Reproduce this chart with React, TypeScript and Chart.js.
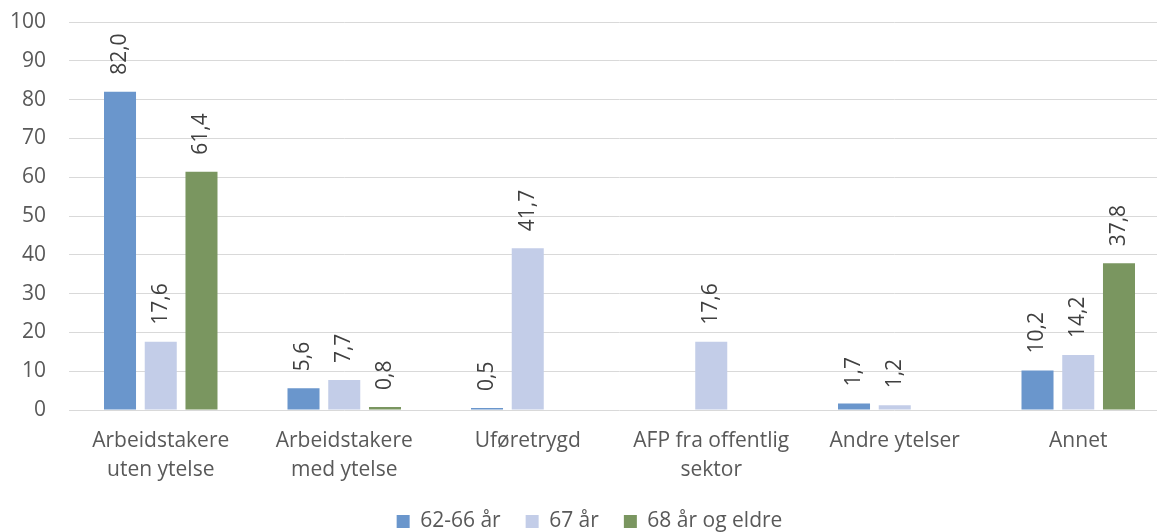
import React, { useEffect, useRef } from "react";
import { Chart, registerables } from "chart.js";

Chart.register(...registerables);

const categories: (string | string[])[] = [
  ["Arbeidstakere", "uten ytelse"],
  ["Arbeidstakere", "med ytelse"],
  "Uføretrygd",
  ["AFP fra offentlig", "sektor"],
  "Andre ytelser",
  "Annet",
];
const seriesNames = ["62-66 år", "67 år", "68 år og eldre"];
const values6266: (number | null)[] = [82.0, 5.6, 0.5, null, 1.7, 10.2];
const values67: (number | null)[] = [17.6, 7.7, 41.7, 17.6, 1.2, 14.2];
const values68: (number | null)[] = [61.4, 0.8, null, null, null, 37.8];
const seriesColors = ["#6A96CC", "#C3CDE8", "#7A9660"];
const yMin = 0;
const yMax = 100;
const yStep = 10;

const FONT = "'Open Sans', 'DejaVu Sans', sans-serif";
const CANVAS_W = 1180;
const CANVAS_H = 542;

const barLabels = {
  id: "barLabels",
  afterDatasetsDraw(chart: any) {
    const ctx = chart.ctx as CanvasRenderingContext2D;
    ctx.save();
    ctx.font = `21px ${FONT}`;
    ctx.fillStyle = "#404040";
    ctx.textAlign = "left";
    ctx.textBaseline = "middle";
    chart.data.datasets.forEach((ds: any, di: number) => {
      const meta = chart.getDatasetMeta(di);
      meta.data.forEach((el: any, i: number) => {
        const v = ds.data[i];
        if (v == null) return;
        ctx.save();
        ctx.translate(el.x, el.y - 17);
        ctx.rotate(-Math.PI / 2);
        ctx.fillText(v.toFixed(1).replace(".", ","), 0, 0);
        ctx.restore();
      });
    });
    ctx.restore();
  },
};

export default function App() {
  const ref = useRef<HTMLCanvasElement | null>(null);
  useEffect(() => {
    if (!ref.current) return;
    const chart = new Chart(ref.current, {
      type: "bar",
      data: {
        labels: categories as any,
        datasets: [values6266, values67, values68].map((d, i) => ({
          label: seriesNames[i],
          data: d,
          backgroundColor: seriesColors[i],
          borderWidth: 0,
          categoryPercentage: 0.666,
          barPercentage: 0.786,
        })),
      },
      options: {
        responsive: false,
        animation: false,
        devicePixelRatio: 1,
        layout: { padding: { left: 9, right: 10, top: 22, bottom: 0 } },
        plugins: {
          legend: {
            position: "bottom",
            labels: {
              boxWidth: 13,
              boxHeight: 13,
              padding: 25,
              color: "#595959",
              font: { family: FONT, size: 21 },
            },
          },
          tooltip: { enabled: false },
        },
        scales: {
          x: {
            grid: { display: false, drawTicks: false },
            border: { display: false },
            ticks: {
              color: "#595959",
              font: { family: FONT, size: 21, lineHeight: 1.4 },
              padding: 16,
              maxRotation: 0,
              autoSkip: false,
            },
            afterFit: (scale: any) => {
              scale.height = 76;
            },
          },
          y: {
            min: yMin,
            max: yMax,
            ticks: {
              stepSize: yStep,
              color: "#595959",
              font: { family: FONT, size: 21 },
              padding: 23,
            },
            grid: { color: "#D9D9D9", lineWidth: 1, drawTicks: false },
            border: { display: false },
            afterFit: (scale: any) => {
              scale.width = 60;
              scale.paddingTop = 0;
              scale.paddingBottom = 0;
            },
          },
        },
      },
      plugins: [barLabels],
    });
    return () => chart.destroy();
  }, []);
  return (
    <div
      style={{
        position: "fixed",
        left: 0,
        top: 0,
        width: 1157,
        height: 532,
        overflow: "hidden",
        background: "#fff",
      }}
    >
      <canvas
        ref={ref}
        width={CANVAS_W}
        height={CANVAS_H}
        style={{ display: "block", width: CANVAS_W, height: CANVAS_H }}
      />
    </div>
  );
}
